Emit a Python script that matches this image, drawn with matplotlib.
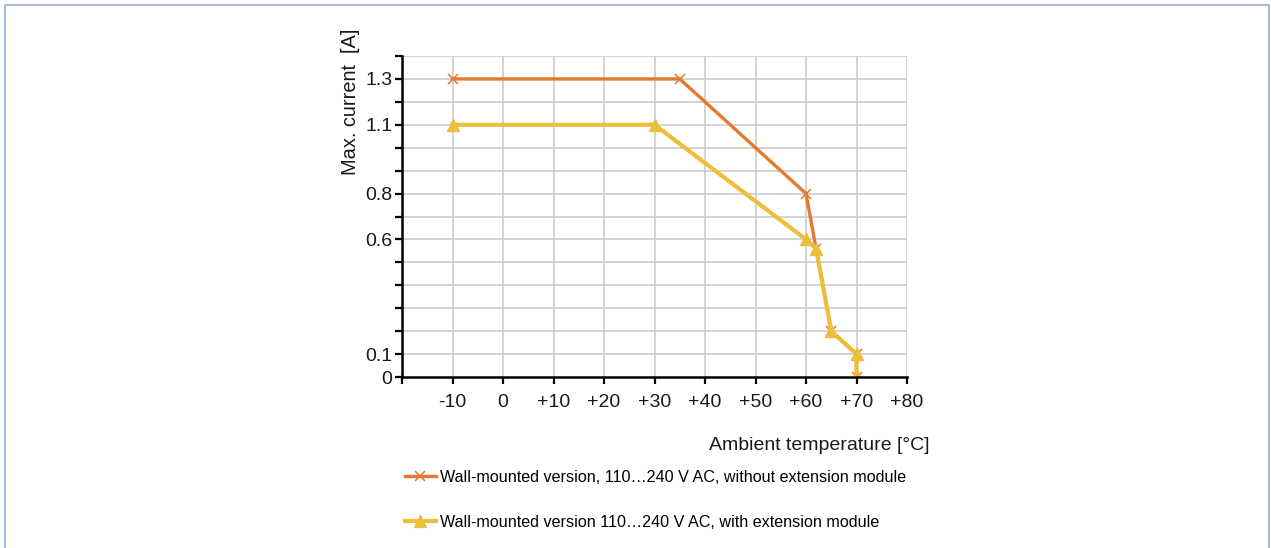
import numpy as np
import matplotlib
matplotlib.use("Agg")
import matplotlib.pyplot as plt
from matplotlib.patches import Rectangle

plt.rcParams['font.family'] = ['Liberation Sans', 'DejaVu Sans']

# derating curves
temp_without = [-10, 35, 60, 62, 65, 70, 70]
current_without = [1.3, 1.3, 0.8, 0.56, 0.2, 0.1, 0.0]

temp_with = [-10, 30, 60, 62, 65, 70, 70]
current_with = [1.1, 1.1, 0.6, 0.56, 0.2, 0.1, 0.0]

label_without = 'Wall-mounted version, 110\u2026240 V AC, without extension module'
label_with = 'Wall-mounted version 110\u2026240 V AC, with extension module'

x_ticks = list(range(-20, 90, 10))
x_tick_labels = ['', '-10', '0', '+10', '+20', '+30', '+40', '+50', '+60', '+70', '+80']
y_ticks = [round(0.1 * i, 1) for i in range(15)]
y_labelled = [0.0, 0.1, 0.6, 0.8, 1.1, 1.3]

orange = '#e37a30'
yellow = '#ebbe3c'
text_col = '#1a1a1a'

W, H = 1271, 548
fig = plt.figure(figsize=(W / 100, H / 100), dpi=100)
ax = fig.add_axes([402 / W, 1 - 377 / H, 505 / W, 321 / H])

# grid
for x in x_ticks[1:]:
    ax.axvline(x, color='#c8c8c8', lw=1.1, zorder=0)
for y in y_ticks[1:]:
    ax.axhline(y, color='#c8c8c8', lw=1.1, zorder=0)

ax.plot(temp_without, current_without, color=orange, lw=2.4,
        marker='x', ms=7, mew=1.1, label=label_without, zorder=3)
ax.plot(temp_with, current_with, color=yellow, lw=3.0,
        marker='^', ms=8, label=label_with, zorder=4)

ax.set_xlim(-20, 80)
ax.set_ylim(0, 1.4)

ax.set_xticks(x_ticks)
ax.set_xticklabels(x_tick_labels, fontsize=14, color=text_col)
ax.set_yticks(y_ticks)
ax.set_yticklabels([('0' if v == 0 else f'{v:.1f}') if v in y_labelled else '' for v in y_ticks],
                   fontsize=14, color=text_col)
ax.tick_params(axis='both', length=5, width=1.6, color='black')
ax.tick_params(axis='x', pad=7)
ax.tick_params(axis='y', pad=2)

for s in ['top', 'right']:
    ax.spines[s].set_visible(False)
for s in ['left', 'bottom']:
    ax.spines[s].set_linewidth(1.8)
    ax.spines[s].set_zorder(5)

ax.set_ylabel('Max. current  [A]', fontsize=14.4, color=text_col)
ax.yaxis.set_label_coords(-0.083, 0.857)
ax.set_xlabel('Ambient temperature [\u00b0C]', fontsize=14, color=text_col, ha='right')
ax.xaxis.set_label_coords(1.0455, -0.187)

fig.legend(loc='upper left', bbox_to_anchor=(405 / W, 1 - 470 / H), frameon=False,
           fontsize=11.6, handlelength=1.9, handletextpad=0.3, labelspacing=1.85,
           borderpad=0, borderaxespad=0)

# thin border around the figure
fig.patches.append(Rectangle((5 / W, -0.1), 1264 / W, 1.1 - 5 / H, transform=fig.transFigure,
                             fill=False, edgecolor='#a9bbd9', lw=1.5))

fig.savefig('out.png', dpi=100)
